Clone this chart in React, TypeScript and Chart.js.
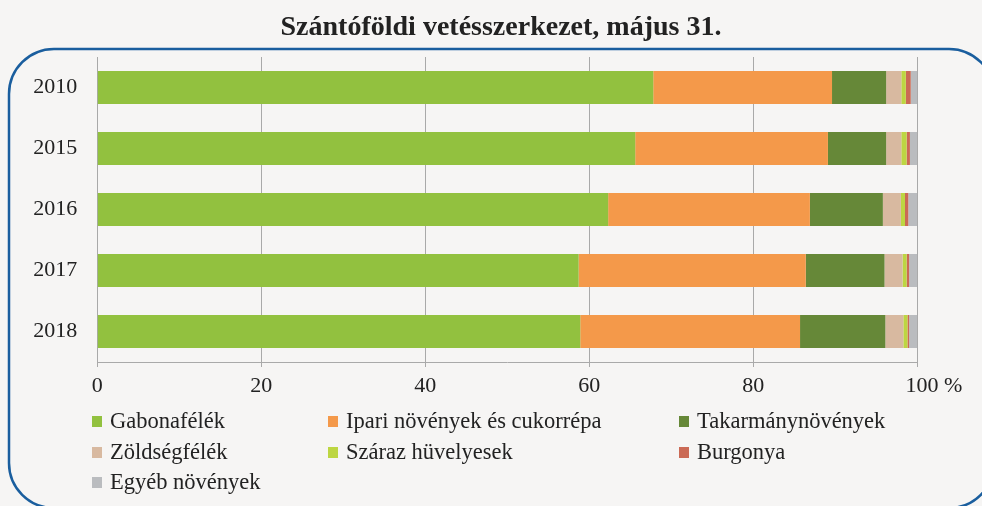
import React, { useEffect, useRef } from "react";
import { Chart, registerables } from "chart.js";

Chart.register(...registerables);

const TITLE = "Szántóföldi vetésszerkezet, május 31.";
const YEARS = ["2010", "2015", "2016", "2017", "2018"];
const SERIES_NAMES = [
  "Gabonafélék",
  "Ipari növények és cukorrépa",
  "Takarmánynövények",
  "Zöldségfélék",
  "Száraz hüvelyesek",
  "Burgonya",
  "Egyéb növények",
];
const GABONA = [67.8, 65.6, 62.3, 58.7, 58.9];
const IPARI = [21.8, 23.5, 24.6, 27.7, 26.8];
const TAKARMANY = [6.6, 7.1, 8.9, 9.6, 10.4];
const ZOLDSEG = [1.85, 1.85, 2.2, 2.2, 2.2];
const SZARAZ = [0.55, 0.65, 0.5, 0.5, 0.5];
const BURGONYA = [0.6, 0.4, 0.4, 0.3, 0.2];
const EGYEB = [0.8, 0.9, 1.1, 1.0, 1.0];
const X_TICKS = [0, 20, 40, 60, 80, 100];

const COLORS = ["#92c13f", "#f4994a", "#668838", "#d8b9a0", "#bdd642", "#cb6a55", "#babcbf"];
const FONT = '"Liberation Serif", "DejaVu Serif", serif';

const bgBorderPlugin = {
  id: "bgBorder",
  beforeDraw(chart: any) {
    const ctx = chart.ctx;
    ctx.save();
    ctx.fillStyle = "#f6f5f4";
    ctx.fillRect(0, 0, chart.width, chart.height);
    ctx.beginPath();
    ctx.roundRect(9, 49, 985, 459, 45);
    ctx.strokeStyle = "#1a5e9e";
    ctx.lineWidth = 2.5;
    ctx.stroke();
    // title
    ctx.font = `bold 28px ${FONT}`;
    ctx.fillStyle = "#222";
    ctx.textAlign = "center";
    ctx.textBaseline = "alphabetic";
    ctx.fillText(TITLE, 501, 35);
    ctx.restore();
  },
};

const legendPlugin = {
  id: "gridLegend",
  afterDraw(chart: any) {
    const ctx = chart.ctx;
    const cols = [92, 328, 679];
    const rows = [421, 452, 482];
    ctx.save();
    ctx.font = `22.5px ${FONT}`;
    ctx.textBaseline = "middle";
    ctx.textAlign = "left";
    chart.data.datasets.forEach((ds: any, i: number) => {
      const x = cols[i % 3];
      const y = rows[Math.floor(i / 3)];
      ctx.fillStyle = ds.backgroundColor;
      ctx.fillRect(x, y - 5, 10, 11);
      ctx.fillStyle = "#222";
      ctx.fillText(ds.label, x + 18, y + 1);
    });
    ctx.restore();
  },
};

export default function App() {
  const ref = useRef<HTMLCanvasElement>(null);
  useEffect(() => {
    document.body.style.margin = "0";
    const values = [GABONA, IPARI, TAKARMANY, ZOLDSEG, SZARAZ, BURGONYA, EGYEB];
    const chart = new Chart(ref.current as HTMLCanvasElement, {
      type: "bar",
      data: {
        labels: YEARS,
        datasets: SERIES_NAMES.map((name, i) => ({
          label: name,
          data: values[i],
          backgroundColor: COLORS[i],
          borderWidth: 0,
          barPercentage: 0.54,
          categoryPercentage: 1,
        })),
      },
      options: {
        indexAxis: "y",
        responsive: false,
        animation: false,
        layout: { padding: { left: 0, right: 64.7, top: 57, bottom: 104 } },
        plugins: {
          legend: { display: false },
          tooltip: { enabled: false },
          title: { display: false },
        },
        scales: {
          x: {
            stacked: true,
            min: 0,
            max: 100,
            afterBuildTicks: (scale: any) => {
              scale.ticks = X_TICKS.map((v) => ({ value: v }));
            },
            afterFit: (scale: any) => {
              scale.height = 40;
            },
            grid: { color: "#a9a9a9", lineWidth: 1, tickLength: 5, drawTicks: true },
            border: { color: "#a9a9a9", width: 1 },
            ticks: {
              color: "#222",
              font: { family: FONT, size: 22 },
              padding: 6,
              maxRotation: 0,
              callback: (v: any) => (v === 100 ? "\u2007\u2007\u2007100 %" : String(v)),
            },
          },
          y: {
            stacked: true,
            afterFit: (scale: any) => {
              scale.width = 97.3;
            },
            grid: { display: false, drawTicks: false },
            border: { display: true, color: "#a9a9a9", width: 1 },
            ticks: {
              color: "#222",
              font: { family: FONT, size: 22 },
              padding: 20,
            },
          },
        },
      },
      plugins: [bgBorderPlugin, legendPlugin],
    } as any);
    return () => chart.destroy();
  }, []);
  return (
    <div style={{ position: "absolute", left: 0, top: 0, width: 982, height: 506 }}>
      <canvas ref={ref} width={982} height={506} style={{ display: "block" }} />
    </div>
  );
}
